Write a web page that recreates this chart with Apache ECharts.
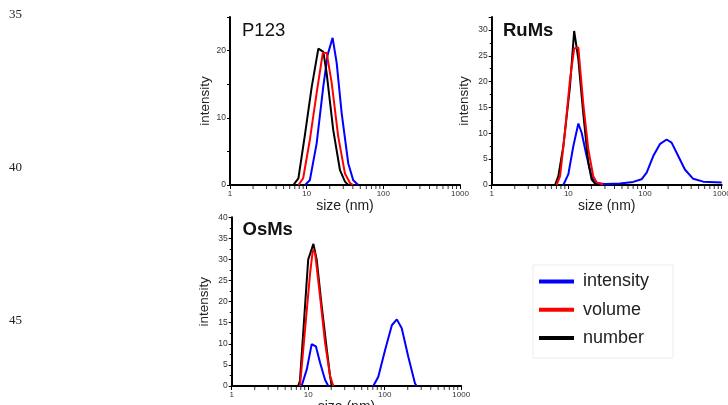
<!DOCTYPE html>
<html>
<head>
<meta charset="utf-8">
<script src="https://cdn.jsdelivr.net/npm/echarts@6/dist/echarts.min.js"></script>
<style>
html,body{margin:0;padding:0;background:#fff;}
#c{width:728px;height:405px;}
</style>
</head>
<body>
<div id="c"></div>
<script>
// ---- data: [size (nm), value] ----
const p123Intensity = [[9.5,0],[11.0,0.7],[13.5,6.2],[16.5,14.7],[18.8,19.4],[21.8,21.9],[24.6,18.2],[28.6,10.7],[34.9,3.2],[40.5,0.7],[47.1,0]];
const p123Volume = [[7.8,0],[9.0,1.0],[11.0,6.7],[13.5,13.7],[16.2,19.6],[18.2,19.7],[21.2,15.2],[25.8,7.2],[31.6,1.7],[36.7,0.3],[40.5,0]];
const p123Number = [[6.7,0],[7.8,1.0],[9.5,7.5],[11.6,14.5],[14.2,20.3],[16.5,19.8],[18.2,16.7],[22.2,8.2],[27.2,2.2],[31.6,0.5],[34.9,0]];

const rumsIntensity = [[8.6,0],[10.0,2.1],[11.6,7.5],[13.5,11.9],[14.9,10.1],[17.3,5.6],[20.1,1.7],[22.2,0.4],[30,0.2],[47,0.3],[70,0.6],[90,1.1],[105,2.4],[128,5.6],[156,7.9],[191,8.8],[222,8.2],[271,5.6],[331,3.0],[425,1.2],[574,0.65],[1000,0.5]];
const rumsVolume = [[7.0,0],[7.8,1.7],[9.0,10.1],[10.5,20.4],[11.9,26.4],[13.5,26.6],[15.6,15.9],[18.2,6.9],[21.1,1.7],[23.4,0.5],[28.5,0.1]];
const rumsNumber = [[6.7,0],[7.4,1.7],[8.6,7.5],[10.5,19.1],[11.9,29.8],[13.5,24.3],[15.6,14.0],[18.2,4.3],[20.1,1.1],[22.2,0.3],[23.4,0]];

const osmsIntensity = [[8.2,0],[9.6,4.0],[11.1,9.9],[12.6,9.4],[14.3,5.5],[16.6,1.5],[18.3,0],[40,'-'],[71,0],[82.5,2.2],[101,8.5],[124,14.4],[144,15.8],[167,13.7],[203,7.0],[249,0.6],[262,0]];
const osmsVolume = [[7.8,0],[9.1,13.4],[10.6,26.8],[11.5,32.3],[12.3,31.5],[14.3,21.2],[16.6,10.3],[19.3,2.4],[21.3,0]];
const osmsNumber = [[7.4,0],[7.8,1.2],[10.0,30.0],[11.7,33.7],[12.9,30.0],[15.0,19.0],[17.5,8.7],[19.3,2.4],[20.3,0]];

const seriesNames = ['intensity','volume','number'];
const panelTitles = ['P123','RuMs','OsMs'];
const lineNumbers = ['35','40','45'];
const minorTickSizes = [2,3,4,5,6,7,8,9,20,30,40,50,60,70,80,90,200,300,400,500,600,700,800,900];
const yMax = [25, 32.5, 40];
const yInterval = [5, 5, 5];
const yLabelStep = [10, 5, 5];

const COLORS = {intensity:'#0000ff', volume:'#ff0000', number:'#000000'};
const FONT = 'Liberation Sans, Arial, sans-serif';

const grids = [
  {left:230, top:17, width:230, height:168, outerBoundsMode:'none', containLabel:false},
  {left:491.7, top:17, width:230, height:168, outerBoundsMode:'none', containLabel:false},
  {left:231.7, top:217.3, width:229.5, height:168.7, outerBoundsMode:'none', containLabel:false}
];
const yNameGap = [17, 20, 20];
const xNameGap = [10, 10, 10];

const xAxes = grids.map((g,i)=>({
  type:'log', logBase:10, min:1, max:1000, gridIndex:i,
  name:'size (nm)', nameLocation:'middle', nameGap:xNameGap[i],
  nameTextStyle:{fontSize:14, fontFamily:FONT, color:'#222'},
  axisLine:{lineStyle:{color:'#000', width:2}},
  axisTick:{show:true, length:4, inside:false, lineStyle:{color:'#000', width:1}},
  axisLabel:{fontSize:8, fontFamily:FONT, color:'#333', margin:5,
    formatter:(v)=>String(Math.round(v))},
  splitLine:{show:false}
}));
const yAxes = grids.map((g,i)=>({
  type:'value', min:0, max:yMax[i], interval:yInterval[i], gridIndex:i,
  name:'intensity', nameLocation:'middle', nameGap:yNameGap[i],
  nameTextStyle:{fontSize:13.5, fontFamily:FONT, color:'#222'},
  axisLine:{show:true, lineStyle:{color:'#000', width:2}},
  axisTick:{show:true, length:3, lineStyle:{color:'#000', width:1}},
  minorTick:{show:i>0, splitNumber:2, length:2, lineStyle:{color:'#000'}},
  axisLabel:{fontSize:8.5, fontFamily:FONT, color:'#333', margin:4,
    formatter:(v)=> (Math.abs(v % yLabelStep[i])<1e-9 ? String(v) : '')},
  splitLine:{show:false}
}));

const panels = [
  [p123Intensity, p123Volume, p123Number],
  [rumsIntensity, rumsVolume, rumsNumber],
  [osmsIntensity, osmsVolume, osmsNumber]
];
const series = [];
panels.forEach((sets,i)=>{
  sets.forEach((d,k)=>{
    const nm = seriesNames[k];
    series.push({
      type:'line', name:nm, xAxisIndex:i, yAxisIndex:i, data:d,
      symbol:'none', smooth:false, connectNulls:false,
      color:COLORS[nm], lineStyle:{width:2, color:COLORS[nm]},
      z: 3 + (k===1?2:(k===2?1:0)), clip:false
    });
  });
  series.push({
    type:'scatter', xAxisIndex:i, yAxisIndex:i, silent:true, clip:false,
    data:minorTickSizes.map(v=>[v,0]), symbol:'rect', symbolSize:[1,3],
    symbolOffset:[0,2.5], itemStyle:{color:'#000'}, z:1
  });
});

const titlePos = [[242,31.5,'normal'],[503,31.5,'bold'],[242.5,230,'bold']];
const graphics = panelTitles.map((t,i)=>({
  type:'text', left:titlePos[i][0], top:titlePos[i][1]-10,
  style:{text:t, fontSize:18.5, fontWeight:titlePos[i][2], fontFamily:FONT, fill:'#111'}
}));
const lnY = [15, 168.5, 321.5];
lineNumbers.forEach((t,i)=>graphics.push({
  type:'text', left:9, top:lnY[i]-7,
  style:{text:t, fontSize:13, fontFamily:'Liberation Serif, Times New Roman, serif', fill:'#222'}
}));
graphics.push({type:'rect', shape:{x:533, y:265, width:140, height:93},
  style:{fill:'none', stroke:'#ededed', lineWidth:1}, z:-1});

const chart = echarts.init(document.getElementById('c'), null, {renderer:'canvas'});
chart.setOption({
  animation:false,
  backgroundColor:'#fff',
  grid:grids,
  xAxis:xAxes,
  yAxis:yAxes,
  legend:{
    data:seriesNames, orient:'vertical', left:539, top:271.5, padding:0,
    icon:'rect', itemWidth:35, itemHeight:4, itemGap:8.3, selectedMode:false,
    textStyle:{fontSize:18, fontFamily:FONT, color:'#222', lineHeight:20, padding:[0,0,0,4]}
  },
  graphic:graphics,
  series:series
});
</script>
</body>
</html>
